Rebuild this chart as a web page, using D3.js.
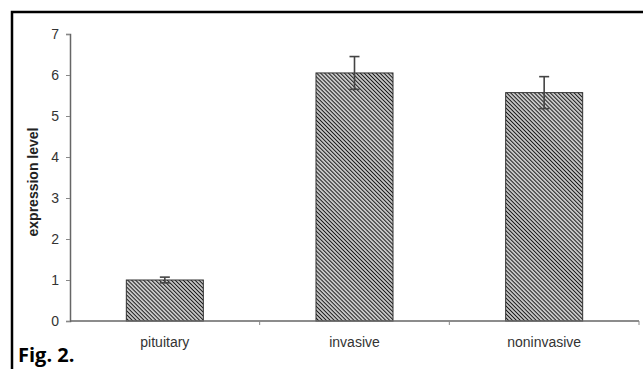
<!DOCTYPE html>
<html>
<head>
<meta charset="utf-8">
<script src="https://cdn.jsdelivr.net/npm/d3@7"></script>
<style>
  body { margin: 0; background: #fff; }
  svg { display: block; }
</style>
</head>
<body>
<svg id="chart"></svg>
<script>
// values
const categories = ['pituitary', 'invasive', 'noninvasive'];
const means = [1.0, 6.05, 5.57];
const errors = [0.07, 0.4, 0.39];
const yTicks = [0, 1, 2, 3, 4, 5, 6, 7];

let width = 643;
let height = 369;
let plotLeft = 70, plotRight = 639, plotTop = 34, plotBottom = 321;

let svg = d3.select('#chart')
    .attr('width', width)
    .attr('height', height);

// hatch pattern for the bars (lines running top-left to bottom-right)
let defs = svg.append('defs');
let pat = defs.append('pattern')
    .attr('id', 'hatch')
    .attr('patternUnits', 'userSpaceOnUse')
    .attr('width', 2.8)
    .attr('height', 2.8)
    .attr('patternTransform', 'rotate(45)');
pat.append('rect').attr('width', 2.8).attr('height', 2.8).attr('fill', '#fff');
pat.append('line')
    .attr('x1', 0).attr('y1', 1.4).attr('x2', 2.8).attr('y2', 1.4)
    .attr('stroke', '#1a1a1a').attr('stroke-width', 1.4);

let xScale = d3.scaleBand()
    .domain(categories)
    .range([plotLeft, plotRight])
    .paddingInner(0.594)
    .paddingOuter(0.297);

let yScale = d3.scaleLinear()
    .domain([0, 7])
    .range([plotBottom, plotTop]);

// frame
svg.append('rect')
    .attr('x', 12).attr('y', 12)
    .attr('width', 700).attr('height', 400)
    .attr('fill', 'none')
    .attr('stroke', '#000')
    .attr('stroke-width', 2.5);

// y axis
let yAxis = d3.axisLeft(yScale)
    .tickValues(yTicks)
    .tickFormat(d3.format('d'))
    .tickSize(4)
    .tickPadding(7);
let gy = svg.append('g')
    .attr('transform', 'translate(' + plotLeft + ',0)')
    .call(yAxis);
gy.select('.domain').attr('stroke', '#666').attr('stroke-width', 1.5);
gy.selectAll('.tick line').attr('stroke', '#888');
gy.selectAll('.tick text')
    .attr('fill', '#333')
    .style('font-family', 'Liberation Sans, Arial, sans-serif')
    .style('font-size', '14px');

// bars
svg.selectAll('rect.bar')
    .data(means)
    .enter()
    .append('rect')
    .attr('class', 'bar')
    .attr('x', (d, i) => xScale(categories[i]))
    .attr('y', d => yScale(d))
    .attr('width', xScale.bandwidth())
    .attr('height', d => yScale(0) - yScale(d))
    .attr('fill', 'url(#hatch)')
    .attr('stroke', '#333')
    .attr('stroke-width', 1);

// x axis (ticks on category boundaries)
let step = xScale.step();
let boundaries = categories.map((c, i) => plotLeft + step * (i + 1));
let gx = svg.append('g');
gx.append('line')
    .attr('x1', plotLeft).attr('x2', plotRight)
    .attr('y1', plotBottom).attr('y2', plotBottom)
    .attr('stroke', '#666').attr('stroke-width', 1.5);
gx.selectAll('line.tk')
    .data(boundaries)
    .enter()
    .append('line')
    .attr('class', 'tk')
    .attr('x1', d => d).attr('x2', d => d)
    .attr('y1', plotBottom).attr('y2', plotBottom + 4)
    .attr('stroke', '#888');
gx.selectAll('text')
    .data(categories)
    .enter()
    .append('text')
    .attr('x', d => xScale(d) + xScale.bandwidth() / 2)
    .attr('y', 347)
    .attr('text-anchor', 'middle')
    .attr('fill', '#333')
    .style('font-family', 'Liberation Sans, Arial, sans-serif')
    .style('font-size', '14px')
    .text(d => d);

// error bars
let eb = svg.append('g').attr('stroke', '#444').attr('stroke-width', 1.6);
means.forEach((m, i) => {
    let cx = xScale(categories[i]) + xScale.bandwidth() / 2;
    let hi = yScale(m + errors[i]);
    let lo = yScale(m - errors[i]);
    eb.append('line').attr('x1', cx).attr('x2', cx).attr('y1', hi).attr('y2', lo);
    eb.append('line').attr('x1', cx - 5).attr('x2', cx + 5).attr('y1', hi).attr('y2', hi);
    eb.append('line').attr('x1', cx - 5).attr('x2', cx + 5).attr('y1', lo).attr('y2', lo);
});

// y label
svg.append('text')
    .attr('transform', 'translate(38,182) rotate(-90)')
    .attr('text-anchor', 'middle')
    .attr('fill', '#222')
    .style('font-family', 'Liberation Sans, Arial, sans-serif')
    .style('font-size', '14px')
    .style('font-weight', 'bold')
    .text('expression level');

// figure caption
svg.append('text')
    .attr('x', 18)
    .attr('y', 362)
    .attr('fill', '#000')
    .style('font-family', 'Open Sans, sans-serif')
    .style('font-size', '20px')
    .style('font-weight', 'bold')
    .text('Fig. 2.');
</script>
</body>
</html>
